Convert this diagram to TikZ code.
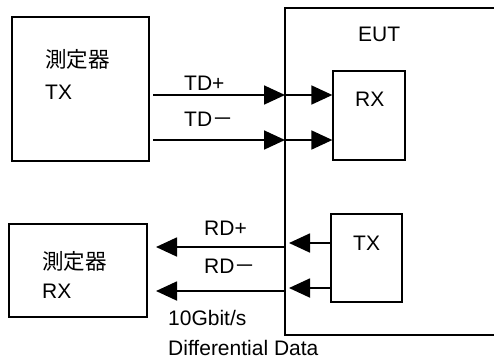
\documentclass[tikz,border=0pt]{standalone}
\usepackage{fontspec}
\setmainfont{Liberation Sans}
\newfontfamily\cjk{Noto Sans CJK JP}
\usetikzlibrary{arrows.meta}
\begin{document}
\begin{tikzpicture}[x=1pt,y=-1pt,
  box/.style={draw,line width=1.3pt,inner sep=0pt},
  lbl/.style={anchor=base west,inner sep=0pt,font=\fontsize{21}{24}\selectfont},
  cj/.style={lbl,font=\cjk\fontsize{21.5}{24}\selectfont},
  sig/.style={line width=1.8pt,-{Triangle[length=21pt,width=19pt]}},
]
\useasboundingbox (0,0) rectangle (494,360);

% outer equipment under test (its right side runs off the page)
\draw[line width=1.3pt] (520,8) -- (285,8) -- (285,335) -- (520,335);
\coordinate (eutL1) at (285,95);
\coordinate (eutL2) at (285,140);
\coordinate (eutL3) at (285,247);
\coordinate (eutL4) at (285,291);
\coordinate (eutR3) at (289,243);
\coordinate (eutR4) at (289,288);

% measuring instruments
\node[box,minimum width=137pt,minimum height=144pt] (mtx) at (80.5,89) {};
\node[box,minimum width=138pt,minimum height=93pt] (mrx) at (78,270.5) {};
% receiver / transmitter inside the EUT
\node[box,minimum width=72pt,minimum height=89pt] (rx) at (369,115.5) {};
\node[box,minimum width=71pt,minimum height=88pt] (tx) at (366.5,258) {};

\coordinate (mtxo1) at (153,95);
\coordinate (mtxo2) at (153,140);
\coordinate (mrxi3) at (156,247);
\coordinate (mrxi4) at (156,291);

% texts
\node[cj] (t1) at (45,67) {測定器};
\node[lbl] (t2) at (45,99) {TX};
\node[cj] (t3) at (42,269) {測定器};
\node[lbl] (t4) at (42,298) {RX};
\node[lbl] (eut) at (358,41) {EUT};
\node[lbl] (t5) at (355,106) {RX};
\node[lbl] (t6) at (353,250) {TX};
\node[lbl] (tdp) at (184,90) {TD+};
\node[lbl] (tdm) at (184,126) {TD{\cjk －}};
\node[lbl] (rdp) at (204,235) {RD+};
\node[lbl] (rdm) at (204,273) {RD{\cjk －}};
\node[lbl] (rate) at (168,325) {10Gbit/s};
\node[lbl] (dd) at (168,355) {Differential Data};

% differential pairs
\draw[sig] (mtxo1) -- (eutL1);
\draw[sig] (mtxo2) -- (eutL2);
\draw[sig] (eutL1) -- (rx.west |- eutL1);
\draw[sig] (eutL2) -- (rx.west |- eutL2);
\draw[sig] (tx.west |- eutR3) -- (eutR3);
\draw[sig] (tx.west |- eutR4) -- (eutR4);
\draw[sig] (eutL3) -- (mrxi3);
\draw[sig] (eutL4) -- (mrxi4);
\end{tikzpicture}
\end{document}
